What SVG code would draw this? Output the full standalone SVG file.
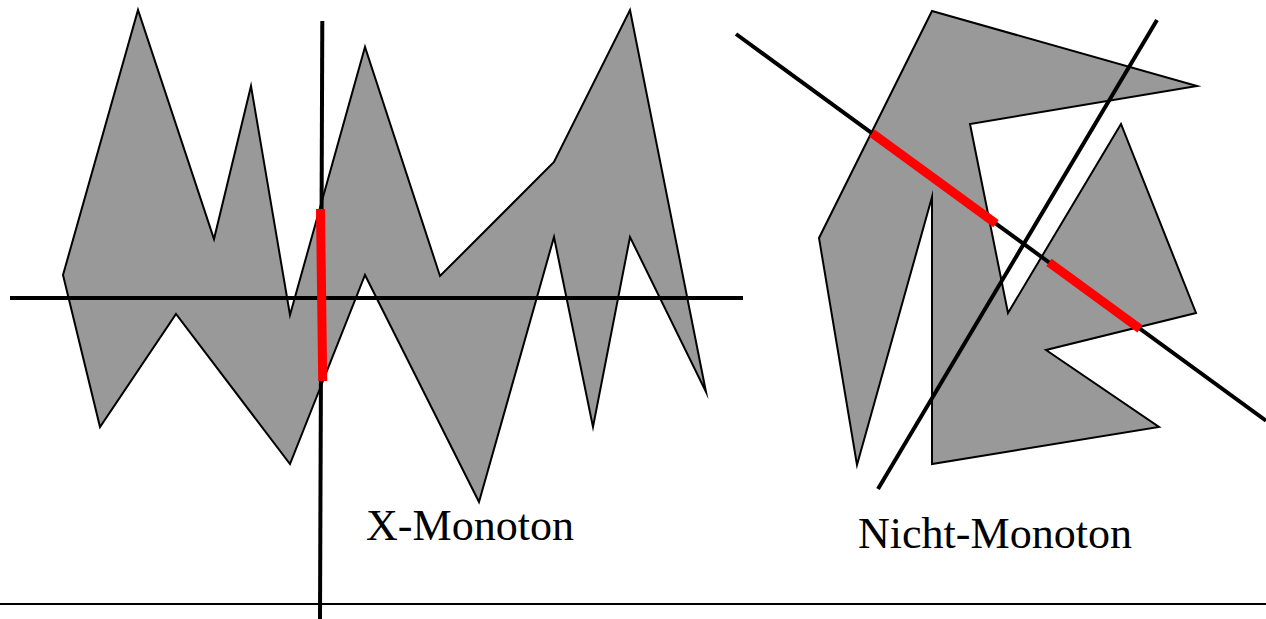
<svg xmlns="http://www.w3.org/2000/svg" width="1266" height="619" viewBox="0 0 1266 619">
<style>
.poly{fill:#999999;stroke:#000;stroke-width:2;stroke-linejoin:miter;stroke-miterlimit:20}
.ln{stroke:#000;stroke-width:4;fill:none}
.red{stroke:#ff0000;stroke-width:9;fill:none}
.base{stroke:#000;stroke-width:2.2;fill:none}
.lbl{font-family:"Liberation Serif","DejaVu Serif",serif;font-size:44px;fill:#000}
</style>
<rect width="1266" height="619" fill="#fff"/>
<g id="x-monoton">
<polygon class="poly" points="63,275 138,10 214,239 251,86 290,315 365,47 440,276 554,162 630,10 706,392 630,237 593,427 554,237 479,502 365,275 290,464 176,314 100,427"/>
<line class="ln" x1="10" y1="298" x2="743" y2="298"/>
<line class="ln" x1="322.3" y1="21" x2="320" y2="619"/>
<line class="red" x1="320.5" y1="209" x2="322.7" y2="381"/>
<text class="lbl" x="366" y="540" textLength="208" lengthAdjust="spacingAndGlyphs">X-Monoton</text>
</g>
<g id="nicht-monoton">
<polygon class="poly" points="932,11 1197,86 970,124 1008,313 1121,124 1196,313 1046,350 1159,427 932,464 932,197 857,465 819,238"/>
<line class="ln" x1="736" y1="34" x2="1266" y2="420.7"/>
<line class="ln" x1="1157" y1="20" x2="878" y2="489"/>
<line class="red" x1="872" y1="133.2" x2="996" y2="223.7"/>
<line class="red" x1="1049" y1="262.4" x2="1140" y2="328.8"/>
<text class="lbl" x="858" y="548" textLength="274" lengthAdjust="spacingAndGlyphs">Nicht-Monoton</text>
</g>
<g id="baseline">
<line class="base" x1="0" y1="604" x2="1266" y2="604"/>
</g>
</svg>
